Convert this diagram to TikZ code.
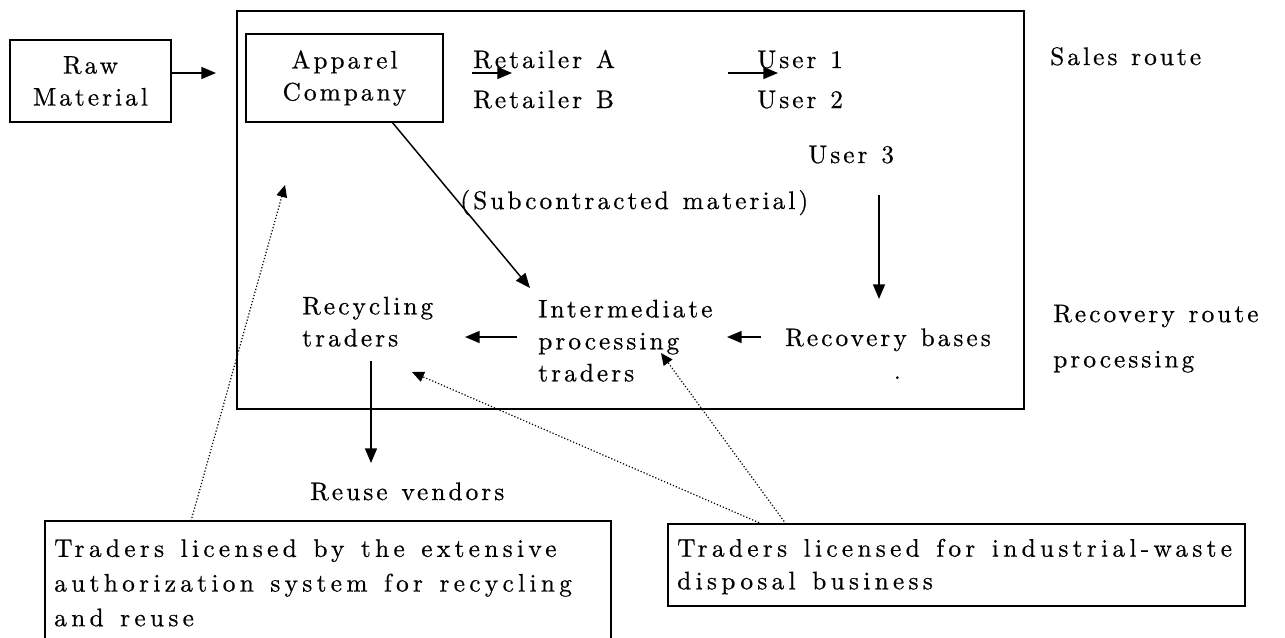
\documentclass[tikz,border=0pt]{standalone}
\usepackage{fontspec}
\usetikzlibrary{arrows.meta}
\newfontfamily\lmA{lmroman10-regular.otf}[LetterSpace=12, WordSpace=1.2, FakeBold=0.6]
\newfontfamily\lmB{lmroman10-regular.otf}[LetterSpace=17, WordSpace=1.3, FakeBold=0.6]
\begin{document}
\begin{tikzpicture}[x=0.75pt,y=-0.75pt,
  every node/.style={inner sep=0pt, font=\lmA\fontsize{19}{24}\selectfont},
  lbl/.style={anchor=base west},
  mlbl/.style={anchor=north west, align=left},
  boxnode/.style={draw, line width=1.5pt, align=center},
  bigbox/.style={draw, line width=1.5pt},
  infobox/.style={draw, line width=1.5pt},
  infotext/.style={anchor=north west, align=left},
  arr/.style={line width=1.1pt, -{Triangle[length=11pt,width=9pt]}},
  dotarr/.style={line width=0.9pt, dash pattern=on 0.9pt off 1.5pt,
     -{Triangle[length=9pt,width=8pt]}}
]
\useasboundingbox (0,0) rectangle (1285,637);

% boxes
\node[bigbox, minimum width=590.25pt, minimum height=298.5pt] (sys) at (630.5,210) {};
\node[boxnode, minimum width=120.75pt, minimum height=61.5pt] (raw) at (90.5,81) {Raw\\Material};
\node[boxnode, minimum width=147.75pt, minimum height=66pt] (apparel) at (344.5,78) {Apparel\\Company};

% sales route texts
\node[lbl] (ra) at (473,68) {Retailer A};
\node[lbl] (rb) at (473,108) {Retailer B};
\node[lbl] (u1) at (757,68) {User 1};
\node[lbl] (u2) at (757,108) {User 2};
\node[lbl] (u3) at (808,163) {User 3};
\node[lbl] (sub) at (460,209) {(Subcontracted material)};
\node[lbl] (sales) at (1050,65) {Sales route};

% recovery route texts
\node[mlbl] (rroute) at (1053,304.5) {Recovery route\\[10pt]processing};
\node[lbl] (bases) at (785,346) {Recovery bases};
\node[lbl] (dot) at (893.5,379) {.};
\node[mlbl] (inter) at (538,299.5) {Intermediate\\processing\\traders};
\node[mlbl] (recyc) at (302,296.5) {Recycling\\traders};
\node[lbl] (reuse) at (310,500) {Reuse vendors};

% licence boxes
\node[infobox, minimum width=424.5pt, minimum height=93.75pt] (lbox) at (328,583.5) {};
\node[infotext, font=\lmB\fontsize{19}{26}\selectfont] (ltext) at (54,539)
  {Traders licensed by the extensive\\authorization system for recycling\\and reuse};
\node[infobox, minimum width=432.75pt, minimum height=61.5pt] (rbox) at (956.5,565) {};
\node[infotext, font=\lmB\fontsize{19}{24.5}\selectfont] (rtext) at (677,538.5)
  {Traders licensed for industrial-waste\\disposal business};

% connector coordinates
\coordinate (c1) at (216,73);
\coordinate (r1s) at (472,73);
\coordinate (r1e) at (512,73);
\coordinate (u1s) at (728,73);
\coordinate (u1e) at (778,73);
\coordinate (d1s) at (392,122);
\coordinate (d1e) at (530,288);
\coordinate (u3s) at (879,195);
\coordinate (u3e) at (879,299);
\coordinate (b1s) at (761,337);
\coordinate (b1e) at (727,337);
\coordinate (i1s) at (517,337);
\coordinate (i1e) at (465,337);
\coordinate (rc1s) at (371,361);
\coordinate (rc1e) at (371,463);
\coordinate (l1s) at (191,521);
\coordinate (l1e) at (285,185);
\coordinate (p1s) at (762,524);
\coordinate (p1e) at (412,372);
\coordinate (p2s) at (786,524);
\coordinate (p2e) at (661,353);

% solid arrows
\draw[arr] (raw.east |- c1) -- (c1);
\draw[arr] (r1s) -- (r1e);
\draw[arr] (u1s) -- (u1e);
\draw[arr] (d1s) -- (d1e);
\draw[arr] (u3s) -- (u3e);
\draw[arr] (b1s) -- (b1e);
\draw[arr] (i1s) -- (i1e);
\draw[arr] (rc1s) -- (rc1e);

% dotted arrows
\draw[dotarr] (l1s) -- (l1e);
\draw[dotarr] (p1s) -- (p1e);
\draw[dotarr] (p2s) -- (p2e);
\end{tikzpicture}
\end{document}
